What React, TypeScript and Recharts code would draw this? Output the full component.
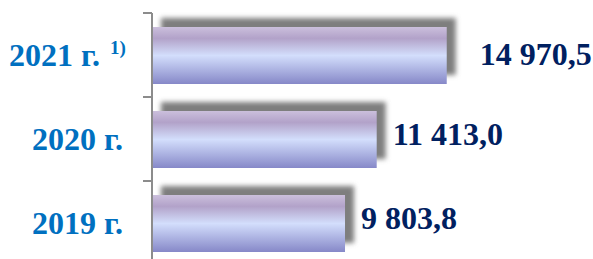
import React from 'react';
import { BarChart, Bar, XAxis, YAxis, LabelList } from 'recharts';

const categories = ['2021 г.', '2020 г.', '2019 г.'];
const footnotes = ['1)', '', ''];
const values = [14970.5, 11413.0, 9803.8];

const data = categories.map((c, i) => ({ year: c, note: footnotes[i], value: values[i] }));

const FONT = "'Times New Roman', 'Liberation Serif', serif";
const CAT_COLOR = '#0070C0';
const VAL_COLOR = '#002060';

const CHART_W = 593;
const CHART_H = 270;
const MARGIN = { top: 13, right: 126, bottom: 5, left: 0 };
const BAND = (CHART_H - MARGIN.top - MARGIN.bottom) / categories.length;

const LABEL_DX = [33, 16, 16];
const LABEL_DY = [-1.5, -6, -6];

const fmt = (v: number) => {
  const [int, dec] = v.toFixed(1).split('.');
  return int.replace(/\B(?=(\d{3})+(?!\d))/g, ' ') + ',' + dec;
};

const CatTick = (props: any) => {
  const { x, y, payload, index } = props;
  const note = footnotes[index] || '';
  return (
    <g>
      <line x1={x + 20} x2={x + 29} y1={y - BAND / 2} y2={y - BAND / 2} stroke="#8c8c8c" strokeWidth={2} />
      <line x1={x + 20} x2={x + 29} y1={y + BAND / 2} y2={y + BAND / 2} stroke="#8c8c8c" strokeWidth={2} />
      <text x={note ? x - 23 : x} y={y} dy="0.35em" textAnchor="end" fontFamily={FONT} fontWeight="bold" fontSize={32} fill={CAT_COLOR}>
        {payload.value}
      </text>
      {note ? (
        <text x={x - 13} y={y - 1} textAnchor="start" fontFamily={FONT} fontWeight="bold" fontSize={19} fill={CAT_COLOR}>
          {note}
        </text>
      ) : null}
    </g>
  );
};

const BarShape = (props: any) => {
  const { x, y, width, height } = props;
  return (
    <g>
      <rect x={x + 9} y={y - 9} width={width} height={height} fill="#7e7e7e" filter="url(#shadowBlur)" />
      <rect x={x} y={y} width={width} height={height} fill="url(#barGrad)" />
    </g>
  );
};

const ValueLabel = (props: any) => {
  const { x, y, width, height, value, index } = props;
  return (
    <text
      x={x + width + LABEL_DX[index]}
      y={y + height / 2 + LABEL_DY[index]}
      dy="0.35em"
      textAnchor="start"
      fontFamily={FONT}
      fontWeight="bold"
      fontSize={32}
      fill={VAL_COLOR}
    >
      {fmt(value)}
    </text>
  );
};

export default function App() {
  return (
    <div style={{ position: 'fixed', left: 0, top: 0, width: 593, height: 259, overflow: 'hidden', background: '#fff' }}>
      <BarChart width={CHART_W} height={CHART_H} data={data} layout="vertical" margin={MARGIN} barSize={57}>
        <defs>
          <linearGradient id="barGrad" x1="0" y1="0" x2="0" y2="1">
            <stop offset="0%" stopColor="#cbbfdc" />
            <stop offset="20%" stopColor="#b2a2c9" />
            <stop offset="50%" stopColor="#d3defc" />
            <stop offset="100%" stopColor="#8688c8" />
          </linearGradient>
          <filter id="shadowBlur" x="-20%" y="-50%" width="140%" height="200%">
            <feGaussianBlur stdDeviation="2.5" />
          </filter>
        </defs>
        <XAxis type="number" domain={[0, 16000]} hide />
        <YAxis
          type="category"
          dataKey="year"
          width={152}
          tickLine={false}
          tickSize={9}
          tickMargin={20}
          axisLine={{ stroke: '#8c8c8c', strokeWidth: 2 }}
          tick={<CatTick />}
          interval={0}
        />
        <Bar dataKey="value" isAnimationActive={false} shape={<BarShape />}>
          <LabelList dataKey="value" content={<ValueLabel />} />
        </Bar>
      </BarChart>
    </div>
  );
}
